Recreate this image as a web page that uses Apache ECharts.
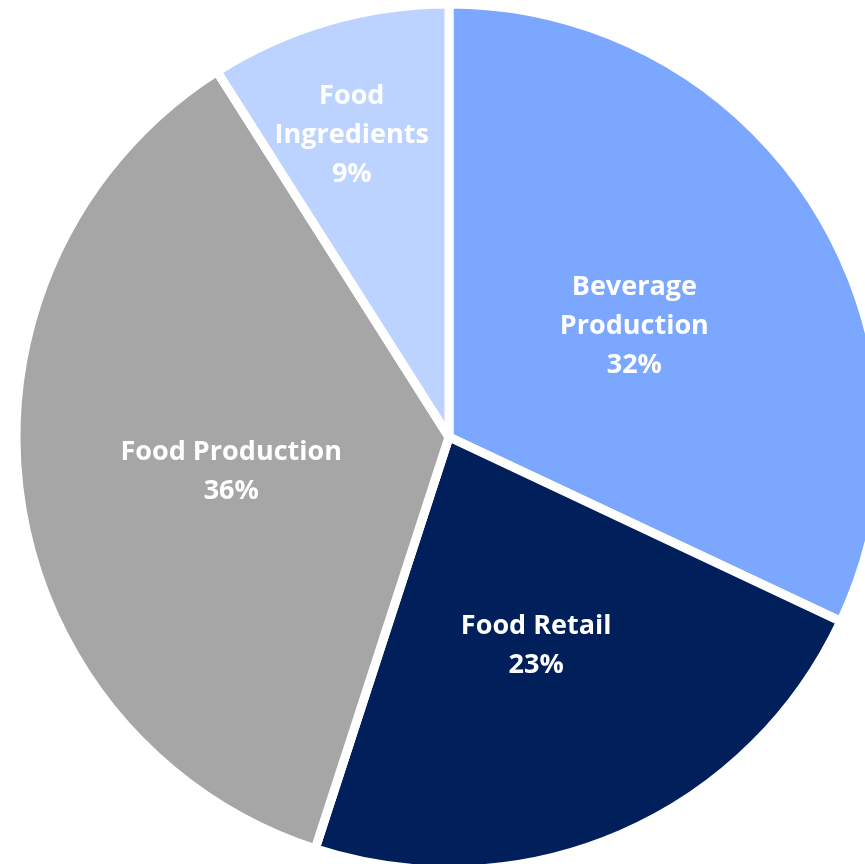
<!DOCTYPE html>
<html>
<head>
<meta charset="utf-8">
<script src="https://cdn.jsdelivr.net/npm/echarts@6/dist/echarts.min.js"></script>
<style>
  html, body { margin: 0; padding: 0; background: #fff; }
  #chart { width: 865px; height: 864px; }
</style>
</head>
<body>
<div id="chart"></div>
<script>
const names = ['Beverage\nProduction', 'Food Retail', 'Food Production', 'Food\nIngredients'];
const values = [32, 23, 36, 9];
const colors = ['#7BA7FF', '#001F5B', '#A6A6A6', '#BDD3FF'];

const chart = echarts.init(document.getElementById('chart'));

// a thin spacer line on top nudges every label a few pixels down
const spacer = '{s| }\n';

const data = names.map((n, i) => {
  const item = { name: n, value: values[i], itemStyle: { color: colors[i] } };
  // the small slice's label sits further out than the middle of the radius
  if (i === 3) {
    item.label = {
      padding: [0, 72, 0, 0],
      formatter: p => spacer + p.name + '\n' + p.value + '%\n\n\n\n\n'
    };
  }
  return item;
});

chart.setOption({
  animation: false,
  series: [{
    type: 'pie',
    center: [449, 437],
    radius: [0, 433],
    startAngle: 90,
    clockwise: true,
    data: data,
    itemStyle: { borderColor: '#fff', borderWidth: 9 },
    label: {
      position: 'inside',
      formatter: p => spacer + p.name + '\n' + p.value + '%',
      color: '#fff',
      fontFamily: 'Open Sans',
      fontWeight: 'bold',
      fontSize: 27,
      lineHeight: 39,
      align: 'center',
      rich: {
        s: { fontSize: 1, lineHeight: 14 }
      }
    },
    labelLine: { show: false },
    emphasis: { disabled: true }
  }]
});
</script>
</body>
</html>
